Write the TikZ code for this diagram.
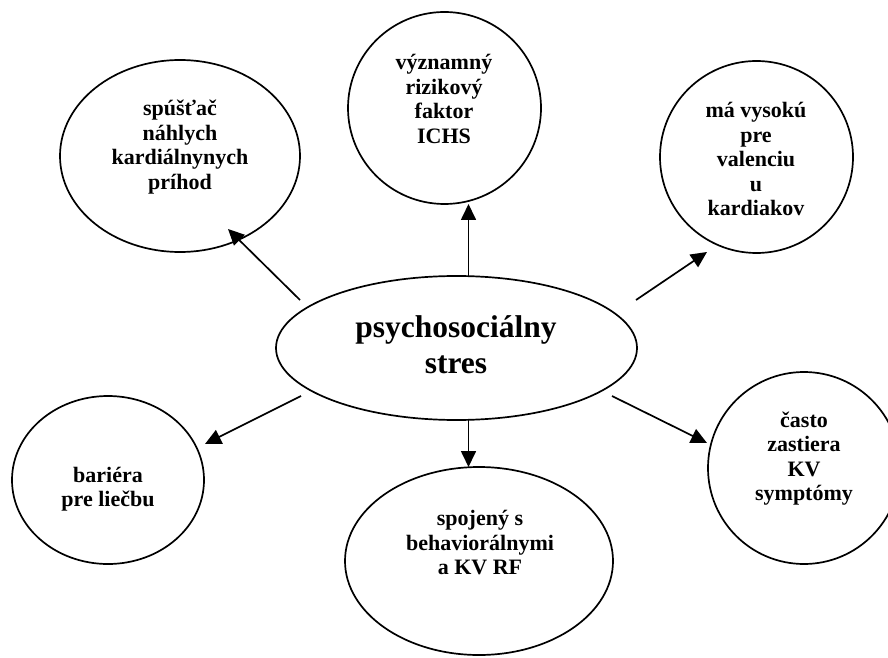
\documentclass[tikz,border=0pt]{standalone}
\usepackage{fontspec}
\setmainfont{Liberation Serif}
\usetikzlibrary{arrows.meta,shapes.geometric}
\begin{document}
\begin{tikzpicture}[x=1pt,y=1pt,
  bubble/.style={draw,line width=1.7pt,ellipse,inner sep=0pt},
  lbl/.style={align=center,inner sep=0pt,font=\fontsize{22}{24.5}\selectfont\bfseries},
  biglbl/.style={align=center,inner sep=0pt,font=\fontsize{31.5}{36}\selectfont\bfseries},
  arr/.style={line width=1.7pt,-{Triangle[length=16pt,width=15pt]}}]
\useasboundingbox (0,0) rectangle (888,657);
% ellipses
\node[bubble,minimum width=361pt,minimum height=144pt] (c) at (456.5,309) {};
\node[bubble,minimum width=240pt,minimum height=192pt] (tl) at (180,501) {};
\node[bubble,minimum width=193pt,minimum height=192pt] (tm) at (444.5,549) {};
\node[bubble,minimum width=193pt,minimum height=192pt] (tr) at (756.5,500) {};
\node[bubble,minimum width=192pt,minimum height=168pt] (bl) at (108,177) {};
\node[bubble,minimum width=268pt,minimum height=188pt] (bm) at (479,96) {};
\node[bubble,minimum width=192pt,minimum height=192pt] (br) at (804,189) {};
% texts
\node[biglbl] (ct) at (456,312) {psychosociálny\\stres};
\node[lbl] (tlt) at (180,510) {spúšťač\\náhlych\\kardiálnynych\\príhod};
\node[lbl] (tmt) at (444,558) {významný\\rizikový\\faktor\\ICHS};
\node[lbl] (trt) at (756,498) {má vysokú\\pre\\valenciu\\u\\kardiakov};
\node[lbl] (blt) at (108,168) {bariéra\\pre liečbu};
\node[lbl] (bmt) at (480,114) {spojený s\\behaviorálnymi\\a KV RF};
\node[lbl] (brt) at (804,198.5) {často\\zastiera\\KV\\symptómy};
% connector ends
\coordinate (s1) at (300,357);   \coordinate (e1) at (228,428);
\coordinate (s2) at (468.5,381); \coordinate (e2) at (468.5,453);
\coordinate (s3) at (636,357);   \coordinate (e3) at (707,405);
\coordinate (s4) at (301,261);   \coordinate (e4) at (205,213);
\coordinate (s5) at (468.5,237); \coordinate (e5) at (468.5,190);
\coordinate (s6) at (612,261);   \coordinate (e6) at (707,214);
\draw[arr] (s1) -- (e1);
\draw[arr] (s2) -- (e2);
\draw[arr] (s3) -- (e3);
\draw[arr] (s4) -- (e4);
\draw[arr] (s5) -- (e5);
\draw[arr] (s6) -- (e6);
\end{tikzpicture}
\end{document}
